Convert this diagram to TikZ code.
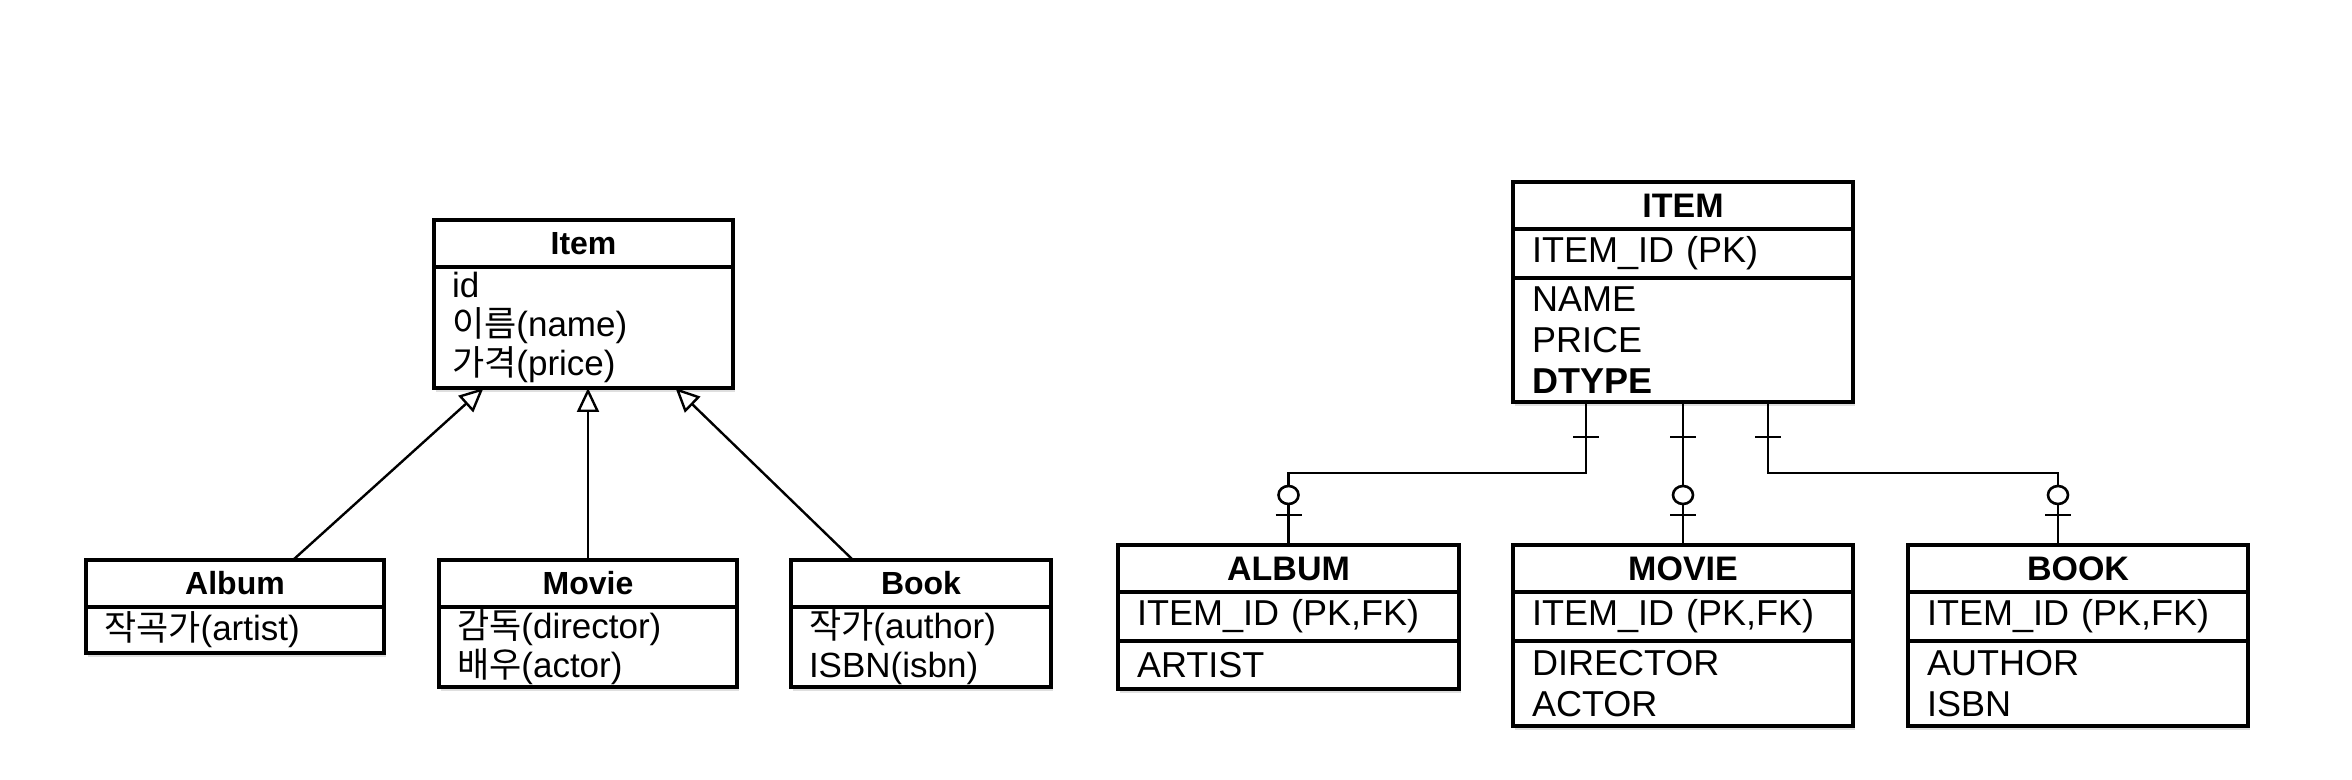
\documentclass[tikz,border=0pt]{standalone}
\usepackage{fontspec}
\setmainfont{Liberation Sans}
\newfontfamily\kr{Noto Sans CJK KR}
\usetikzlibrary{positioning, arrows.meta, shadows}

\tikzset{
  box/.style = {draw, line width=1.6pt, fill=white, outer sep=0pt,
    drop shadow={shadow xshift=1pt, shadow yshift=-2pt, opacity=0.25}},
  cls/.style = {box, inner sep=0pt, minimum height=23.5pt,
    font=\bfseries\fontsize{16pt}{19pt}\selectfont},
  attr/.style = {box, align=left, inner xsep=9pt, inner ysep=0pt,
    font=\fontsize{17.5pt}{19.5pt}\selectfont},
  tbl/.style = {box, inner sep=0pt, minimum height=23.5pt,
    font=\bfseries\fontsize{17pt}{20pt}\selectfont},
  col/.style = {box, align=left, inner xsep=9.5pt, inner ysep=0pt,
    font=\fontsize{18pt}{20.5pt}\selectfont},
  isa/.style = {line width=1.2pt, -{Triangle[open, length=12pt, width=11pt]}},
  rel/.style = {line width=1.3pt},
  onebar/.pic = {\draw[rel] (-6.5pt,0) -- (6.5pt,0);},
  zeroone/.pic = {\draw[rel] (-6.5pt,0) -- (6.5pt,0);
    \draw[rel, fill=white] (0,10pt) ellipse (5pt and 4.5pt);}
}

\begin{document}
\begin{tikzpicture}
  \useasboundingbox (0,0) rectangle (1176pt,-390pt);

  % class diagram
  \node[cls, minimum width=149.5pt] (item) at (291.75pt,-121.75pt) {Item};
  \node[attr, text width=131.5pt, minimum height=60.5pt, below=0pt of item] (itemAttr)
    {id\\{\kr 이름}(name)\\{\kr 가격}(price)};

  \node[cls, minimum width=149pt] (album) at (117.5pt,-291.75pt) {Album};
  \node[attr, text width=131pt, minimum height=23pt, below=0pt of album] (albumAttr)
    {{\kr 작곡가}(artist)};

  \node[cls, minimum width=149pt] (movie) at (294pt,-291.75pt) {Movie};
  \node[attr, text width=131pt, minimum height=40pt, below=0pt of movie] (movieAttr)
    {{\kr 감독}(director)\\{\kr 배우}(actor)};

  \node[cls, minimum width=130pt] (book) at (460.5pt,-291.75pt) {Book};
  \node[attr, text width=112pt, minimum height=40pt, below=0pt of book] (bookAttr)
    {{\kr 작가}(author)\\ISBN(isbn)};

  \draw[isa] ([xshift=29pt]album.north) -- ([xshift=-50pt]itemAttr.south);
  \draw[isa] (movie.north) -- (movie.north |- itemAttr.south);
  \draw[isa] ([xshift=-34pt]book.north) -- ([xshift=46pt]itemAttr.south);

  % tables
  \node[tbl, minimum width=170pt] (ITEM) at (841.5pt,-102.75pt) {ITEM};
  \node[col, text width=151pt, minimum height=24.5pt, below=0pt of ITEM] (ITEMpk)
    {ITEM\_ID (PK)};
  \node[col, text width=151pt, minimum height=62pt, below=0pt of ITEMpk] (ITEMcol)
    {NAME\\PRICE\\\textbf{DTYPE}};

  \node[tbl, minimum width=170.5pt] (ALBUM) at (644.25pt,-284.25pt) {ALBUM};
  \node[col, text width=151.5pt, minimum height=24.5pt, below=0pt of ALBUM] (ALBUMpk)
    {ITEM\_ID (PK,FK)};
  \node[col, text width=151.5pt, minimum height=24pt, below=0pt of ALBUMpk] (ALBUMcol)
    {ARTIST};

  \node[tbl, minimum width=170pt] (MOVIE) at (841.5pt,-284.25pt) {MOVIE};
  \node[col, text width=151pt, minimum height=24.5pt, below=0pt of MOVIE] (MOVIEpk)
    {ITEM\_ID (PK,FK)};
  \node[col, text width=151pt, minimum height=42.5pt, below=0pt of MOVIEpk] (MOVIEcol)
    {DIRECTOR\\ACTOR};

  \node[tbl, minimum width=170pt] (BOOK) at (1039pt,-284.25pt) {BOOK};
  \node[col, text width=151pt, minimum height=24.5pt, below=0pt of BOOK] (BOOKpk)
    {ITEM\_ID (PK,FK)};
  \node[col, text width=151pt, minimum height=42.5pt, below=0pt of BOOKpk] (BOOKcol)
    {AUTHOR\\ISBN};

  \coordinate (relY) at (0,-236.5pt);
  \coordinate (relAlbum) at ([xshift=-48.5pt]ITEMcol.south);
  \coordinate (relBook) at ([xshift=42.5pt]ITEMcol.south);
  \draw[rel] (relAlbum) -- (relAlbum |- relY) -| (ALBUM.north);
  \draw[rel] (ITEMcol.south) -- (MOVIE.north);
  \draw[rel] (relBook) -- (relBook |- relY) -| ([xshift=-10pt]BOOK.north);

  \pic at ([yshift=-17.5pt]relAlbum) {onebar};
  \pic at ([yshift=-17.5pt]ITEMcol.south) {onebar};
  \pic at ([yshift=-17.5pt]relBook) {onebar};
  \pic at ([yshift=15pt]ALBUM.north) {zeroone};
  \pic at ([yshift=15pt]MOVIE.north) {zeroone};
  \pic at ([yshift=15pt,xshift=-10pt]BOOK.north) {zeroone};
\end{tikzpicture}
\end{document}
